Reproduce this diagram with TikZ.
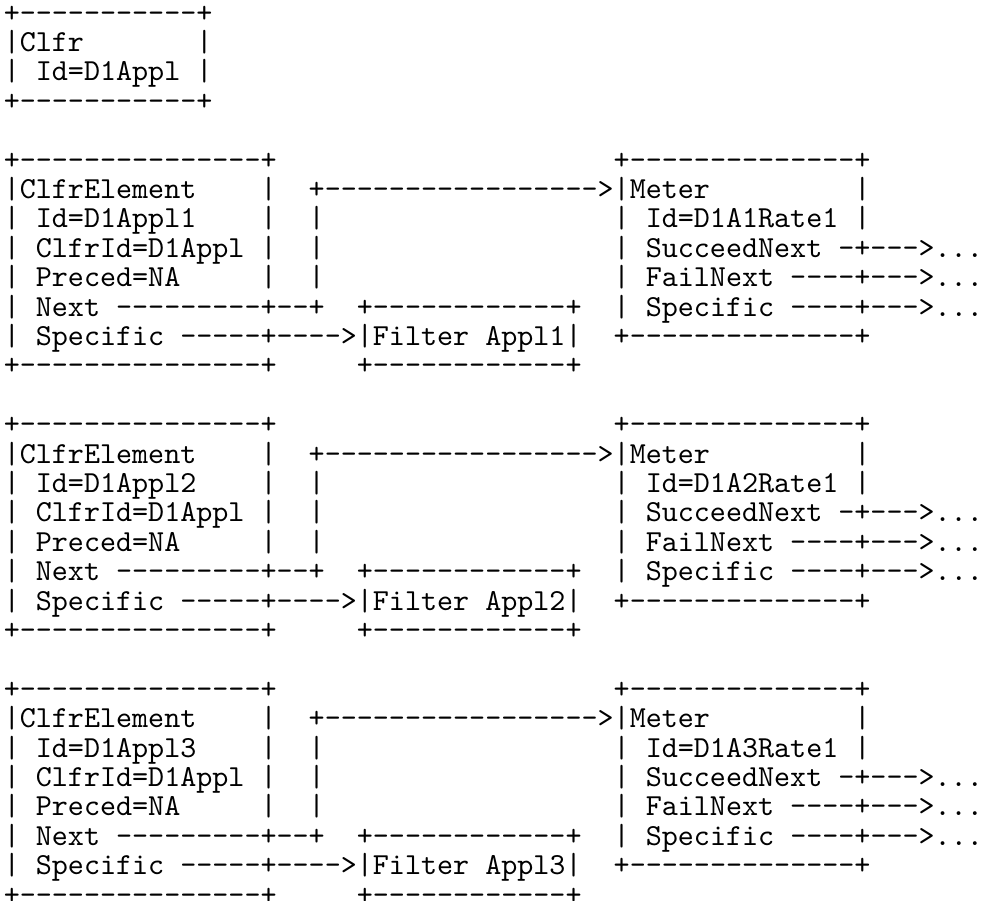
\documentclass[tikz,border=0pt]{standalone}
\usepackage{fontspec}
\setmonofont{lmmono10-regular.otf}[Ligatures=CommonOff]
\usepackage{tikz}

\newcommand\colgap[1]{\hspace*{\dimexpr\fontcharwd\font`M*#1\relax}}
\tikzset{asciirow/.style={anchor=base west, inner sep=0pt, font=\ttfamily\fontsize{22.93pt}{24pt}\selectfont}}

\begin{document}
\begin{tikzpicture}[x=0.75pt, y=-0.75pt]
        \useasboundingbox (0,0) rectangle (982,900);

        % Classifier box
        \node[asciirow] (clfr1) at (3.5,22) {+-----------+};
        \node[asciirow] (clfr2) at (3.5,51.4) {|Clfr\colgap{7}|};
        \node[asciirow] (clfr3) at (3.5,80.8) {| Id=D1Appl |};
        \node[asciirow] (clfr4) at (3.5,110.2) {+-----------+};

        % First element with its filter and meter
        \node[asciirow] (g1l1) at (3.5,169) {+---------------+\colgap{21}+--------------+};
        \node[asciirow] (g1l2) at (3.5,198.4) {|ClfrElement\colgap{4}|\colgap{2}+----------------->|Meter\colgap{9}|};
        \node[asciirow] (g1l3) at (3.5,227.8) {| Id=D1Appl1\colgap{4}|\colgap{2}|\colgap{18}| Id=D1A1Rate1 |};
        \node[asciirow] (g1l4) at (3.5,257.2) {| ClfrId=D1Appl |\colgap{2}|\colgap{18}| SucceedNext -+--->...};
        \node[asciirow] (g1l5) at (3.5,286.6) {| Preced=NA\colgap{5}|\colgap{2}|\colgap{18}| FailNext ----+--->...};
        \node[asciirow] (g1l6) at (3.5,316) {| Next ---------+--+\colgap{2}+------------+\colgap{2}| Specific ----+--->...};
        \node[asciirow] (g1l7) at (3.5,345.4) {| Specific -----+---->|Filter Appl1|\colgap{2}+--------------+};
        \node[asciirow] (g1l8) at (3.5,374.8) {+---------------+\colgap{5}+------------+};

        % Second element with its filter and meter
        \node[asciirow] (g2l1) at (3.5,433.6) {+---------------+\colgap{21}+--------------+};
        \node[asciirow] (g2l2) at (3.5,463) {|ClfrElement\colgap{4}|\colgap{2}+----------------->|Meter\colgap{9}|};
        \node[asciirow] (g2l3) at (3.5,492.4) {| Id=D1Appl2\colgap{4}|\colgap{2}|\colgap{18}| Id=D1A2Rate1 |};
        \node[asciirow] (g2l4) at (3.5,521.8) {| ClfrId=D1Appl |\colgap{2}|\colgap{18}| SucceedNext -+--->...};
        \node[asciirow] (g2l5) at (3.5,551.2) {| Preced=NA\colgap{5}|\colgap{2}|\colgap{18}| FailNext ----+--->...};
        \node[asciirow] (g2l6) at (3.5,580.6) {| Next ---------+--+\colgap{2}+------------+\colgap{2}| Specific ----+--->...};
        \node[asciirow] (g2l7) at (3.5,610) {| Specific -----+---->|Filter Appl2|\colgap{2}+--------------+};
        \node[asciirow] (g2l8) at (3.5,639.4) {+---------------+\colgap{5}+------------+};

        % Third element with its filter and meter
        \node[asciirow] (g3l1) at (3.5,698.2) {+---------------+\colgap{21}+--------------+};
        \node[asciirow] (g3l2) at (3.5,727.6) {|ClfrElement\colgap{4}|\colgap{2}+----------------->|Meter\colgap{9}|};
        \node[asciirow] (g3l3) at (3.5,757) {| Id=D1Appl3\colgap{4}|\colgap{2}|\colgap{18}| Id=D1A3Rate1 |};
        \node[asciirow] (g3l4) at (3.5,786.4) {| ClfrId=D1Appl |\colgap{2}|\colgap{18}| SucceedNext -+--->...};
        \node[asciirow] (g3l5) at (3.5,815.8) {| Preced=NA\colgap{5}|\colgap{2}|\colgap{18}| FailNext ----+--->...};
        \node[asciirow] (g3l6) at (3.5,845.2) {| Next ---------+--+\colgap{2}+------------+\colgap{2}| Specific ----+--->...};
        \node[asciirow] (g3l7) at (3.5,874.6) {| Specific -----+---->|Filter Appl3|\colgap{2}+--------------+};
        \node[asciirow] (g3l8) at (3.5,904) {+---------------+\colgap{5}+------------+};
    \end{tikzpicture}
\end{document}
